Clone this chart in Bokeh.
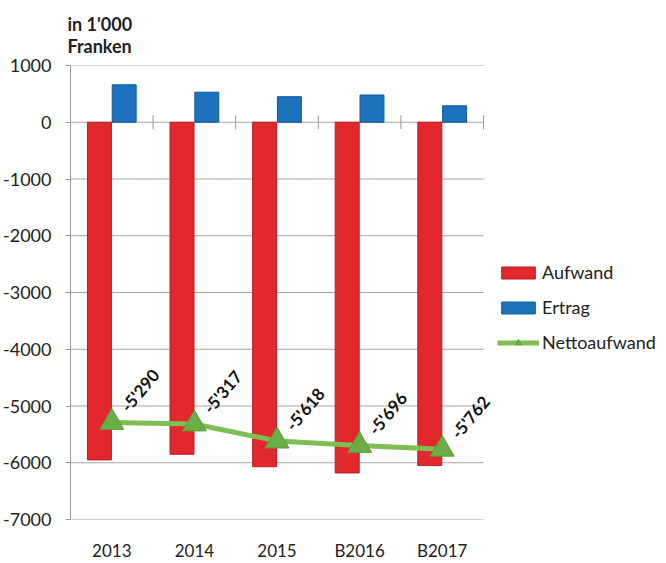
import math
from bokeh.plotting import figure
from bokeh.models import (ColumnDataSource, FixedTicker, Legend, LegendItem, Range1d, Title, LabelSet)
from bokeh.core.properties import value
from bokeh.embed import file_html
from bokeh.resources import INLINE

categories = ["2013", "2014", "2015", "B2016", "B2017"]
aufwand = [-5950, -5850, -6070, -6180, -6050]
ertrag = [660, 530, 450, 480, 290]
netto = [-5290, -5317, -5618, -5696, -5762]
netto_labels = ["-5'290", "-5'317", "-5'618", "-5'696", "-5'762"]
y_ticks = [1000, 0, -1000, -2000, -3000, -4000, -5000, -6000, -7000]

FONT = "Lato"
n = len(categories)
idx = list(range(1, n + 1))

# category area is 413px wide; the frame continues to the right to hold the legend
CAT_PX = 413
FRAME_PX = 596
x_start = 0.5
x_end = x_start + n * FRAME_PX / CAT_PX

p = figure(width=666, height=563, output_backend="svg", toolbar_location=None,
           x_range=Range1d(x_start, x_end), y_range=Range1d(min(y_ticks), max(y_ticks)),
           min_border_left=70, min_border_right=0, min_border_top=65, min_border_bottom=36)
p.background_fill_color = "white"
p.border_fill_color = "white"
p.outline_line_alpha = 0

t = Title(text="in 1'000\nFranken", align="left", offset=-3, text_font=FONT,
          text_font_size="18px", text_font_style="bold", text_color="#222222",
          standoff=17, text_line_height=1.0)
p.add_layout(t, "above")

# horizontal gridlines limited to the category area
p.segment(x0=[x_start] * len(y_ticks), x1=[n + 0.5] * len(y_ticks), y0=y_ticks, y1=y_ticks,
          line_color="#a6a6a6", line_width=1)

src = ColumnDataSource(dict(
    xa=[i - 0.15 for i in idx], xe=[i + 0.15 for i in idx], x=idx,
    aufwand=aufwand, ertrag=ertrag, netto=netto, lab=netto_labels))

r_a = p.vbar(x="xa", top=0, bottom="aufwand", width=0.29, source=src,
             fill_color="#e3282d", line_color="#b51d22", line_width=1)
r_e = p.vbar(x="xe", top="ertrag", bottom=0, width=0.29, source=src,
             fill_color="#1c72bd", line_color="#135a98", line_width=1)

# boundary tick marks on the zero line
bounds = [i + 0.5 for i in idx]
p.scatter(x=bounds, y=[0] * len(bounds), marker="dash", angle=math.pi / 2, size=14,
          line_color="#9a9a9a", line_width=1)

r_l = p.line(x="x", y="netto", source=src, line_color="#7dbf52", line_width=5)
r_m = p.scatter(x="x", y="netto", source=src, marker="triangle", size=24,
                fill_color="#6cae46", line_color="#5c9a3c", line_width=1)

labels = LabelSet(x="x", y="netto", text="lab", source=src, angle=50, angle_units="deg",
                  x_offset=28, y_offset=32, text_align="center", text_baseline="middle",
                  text_font=value(FONT), text_font_size=value("17px"),
                  text_font_style=value("bold"), text_color="#111111")
p.add_layout(labels)

p.xgrid.visible = False
p.ygrid.visible = False

p.yaxis.ticker = FixedTicker(ticks=y_ticks)
p.yaxis.major_label_overrides = {v: str(v) for v in y_ticks}
p.yaxis.axis_line_color = "#9a9a9a"
p.yaxis.major_tick_line_color = "#9a9a9a"
p.yaxis.major_tick_out = 5
p.yaxis.major_tick_in = 0
p.yaxis.minor_tick_line_color = None
p.yaxis.major_label_text_font = FONT
p.yaxis.major_label_text_font_size = "18px"
p.yaxis.major_label_text_color = "#222222"
p.yaxis.major_label_standoff = 14

p.xaxis.ticker = FixedTicker(ticks=idx)
p.xaxis.major_label_overrides = {i: c for i, c in zip(idx, categories)}
p.xaxis.axis_line_alpha = 0
p.xaxis.major_tick_line_color = None
p.xaxis.minor_tick_line_color = None
p.xaxis.major_label_text_font = FONT
p.xaxis.major_label_text_font_size = "17px"
p.xaxis.major_label_text_color = "#222222"
p.xaxis.major_label_standoff = 14

legend = Legend(items=[LegendItem(label="Aufwand", renderers=[r_a]),
                       LegendItem(label="Ertrag", renderers=[r_e]),
                       LegendItem(label="Nettoaufwand", renderers=[r_l, r_m])],
                location=(427, 166), glyph_width=42, glyph_height=15, spacing=13,
                label_height=21,
                label_text_font=FONT, label_text_font_size="18px", label_text_color="#222222",
                label_standoff=3, padding=0, margin=0, border_line_alpha=0,
                background_fill_alpha=0)
p.add_layout(legend, "center")

open("out.html", "w").write(file_html(p, INLINE))
